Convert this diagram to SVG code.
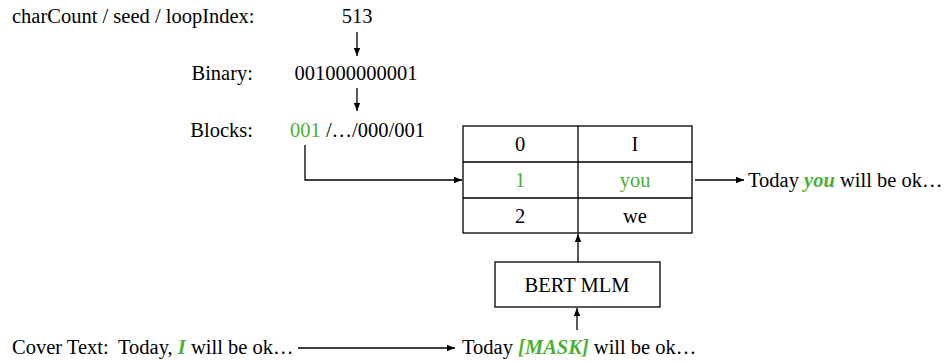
<svg xmlns="http://www.w3.org/2000/svg" width="944" height="362" viewBox="0 0 944 362">
<style>
text{font-family:"Liberation Serif","Times New Roman",serif;font-size:20.5px;fill:#000}
.g{fill:#4caf32}
.bi{font-weight:bold;font-style:italic;fill:#4caf32}
.m{text-anchor:middle}
.e{text-anchor:end}
.ln{stroke:#000;stroke-width:1.3;fill:none}
.box{stroke:#000;stroke-width:1.3;fill:#fff}
</style>
<defs>
<marker id="ah" viewBox="0 0 10 10" refX="10" refY="5" markerWidth="8" markerHeight="8" markerUnits="userSpaceOnUse" orient="auto">
<path d="M0,1 L10,5 L0,9 Z" fill="#000"/>
</marker>
</defs>
<g id="labels">
<text x="12" y="23">charCount / seed / loopIndex:</text>
<text x="357" y="23" class="m">513</text>
<text x="253" y="80" class="e">Binary:</text>
<text x="356" y="80" class="m">001000000001</text>
<text x="253" y="137" class="e">Blocks:</text>
<text x="290" y="137"><tspan class="g">001</tspan> /…/000/001</text>
</g>
<g id="table">
<rect x="463" y="126" width="229" height="107" class="box"/>
<line x1="463" y1="162" x2="692" y2="162" class="ln"/>
<line x1="463" y1="198" x2="692" y2="198" class="ln"/>
<line x1="578" y1="126" x2="578" y2="233" class="ln"/>
<text x="520" y="151" class="m">0</text>
<text x="635" y="151" class="m">I</text>
<text x="520" y="187" class="m g">1</text>
<text x="635" y="187" class="m g">you</text>
<text x="520" y="223" class="m">2</text>
<text x="635" y="223" class="m">we</text>
</g>
<g id="bert">
<rect x="495" y="262" width="165" height="45" class="box"/>
<text x="577" y="292" class="m">BERT MLM</text>
</g>
<g id="output">
<text x="748" y="187">Today <tspan class="bi">you</tspan> will be ok…</text>
</g>
<g id="cover">
<text x="12" y="354">Cover Text:</text>
<text x="118" y="354">Today, <tspan class="bi">I</tspan> will be ok…</text>
</g>
<g id="masked">
<text x="462" y="354">Today <tspan class="bi">[MASK]</tspan> will be ok…</text>
</g>
<g id="connectors">
<line x1="357" y1="32" x2="357" y2="56" class="ln" marker-end="url(#ah)"/>
<line x1="357" y1="88" x2="357" y2="111" class="ln" marker-end="url(#ah)"/>
<polyline points="305,145 305,180 462,180" class="ln" marker-end="url(#ah)"/>
<line x1="695" y1="180" x2="744" y2="180" class="ln" marker-end="url(#ah)"/>
<line x1="578" y1="262" x2="578" y2="234" class="ln" marker-end="url(#ah)"/>
<line x1="577" y1="330" x2="577" y2="308" class="ln" marker-end="url(#ah)"/>
<line x1="298" y1="348" x2="455" y2="348" class="ln" marker-end="url(#ah)"/>
</g>
</svg>
